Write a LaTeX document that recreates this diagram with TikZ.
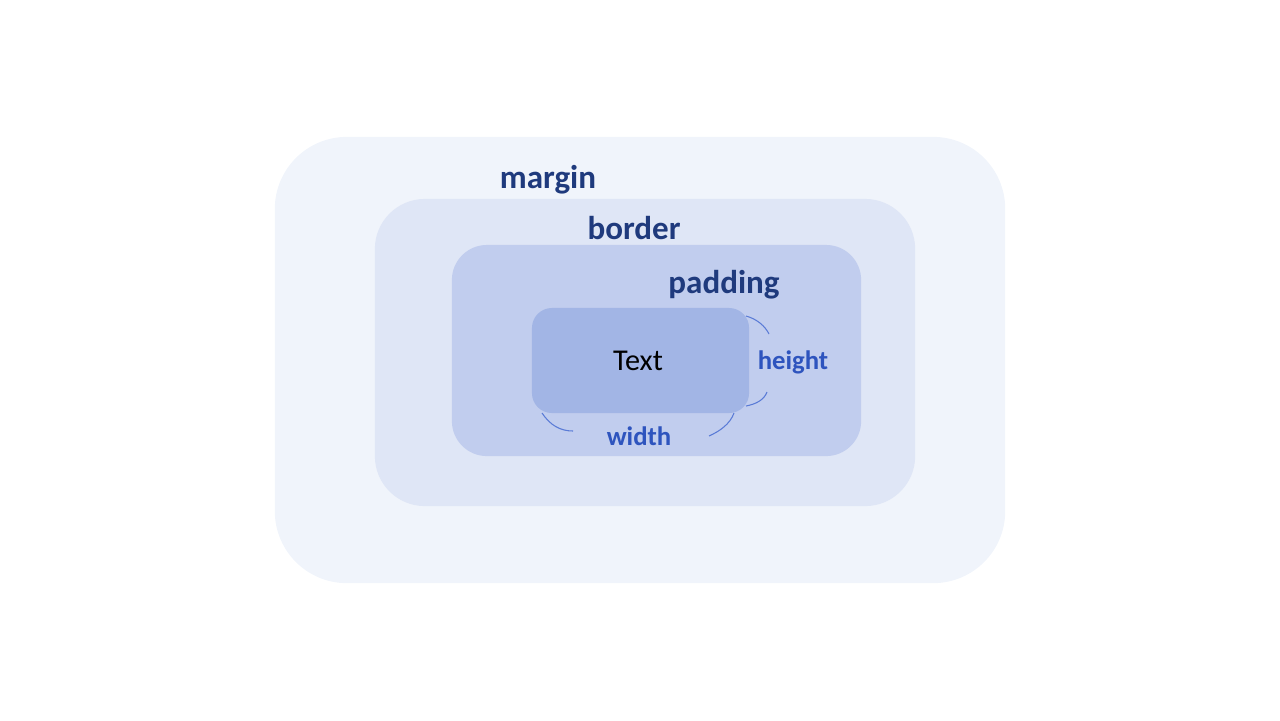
\documentclass[tikz,border=0pt]{standalone}
\usepackage{fontspec}
\setmainfont{Carlito}
\usepackage{xcolor}
\usepackage{tikz}
\definecolor{marginblue}{HTML}{F0F4FB}
\definecolor{borderblue}{HTML}{DFE6F6}
\definecolor{paddingblue}{HTML}{C1CDEE}
\definecolor{textblue}{HTML}{A2B5E5}
\definecolor{labelnavy}{HTML}{1F3A7D}
\definecolor{sizeblue}{HTML}{2E54BE}
\definecolor{arcblue}{HTML}{5A7BD6}
\tikzset{
	layer/.style = {rectangle, inner sep=0pt, draw=none},
	boxlabel/.style = {font=\fontsize{9.4}{11}\selectfont\bfseries, text=labelnavy},
	sizelabel/.style = {font=\fontsize{7.6}{9}\selectfont\bfseries, text=sizeblue},
	arc/.style = {draw=arcblue, line width=0.3pt}
}

\begin{document}
\begin{tikzpicture}[x=0.01cm, y=-0.01cm]
	\useasboundingbox (0,0) rectangle (1280,720);
	
	\node[layer, minimum width=7.3cm, minimum height=4.46cm, rounded corners=0.72cm, fill=marginblue] (mbox) at (640,360) {};
	\node[layer, minimum width=5.4cm, minimum height=3.07cm, rounded corners=0.5cm, fill=borderblue] (bbox) at (645,352.5) {};
	\node[layer, minimum width=4.09cm, minimum height=2.11cm, rounded corners=0.35cm, fill=paddingblue] (pbox) at (656.5,350.5) {};
	\node[layer, minimum width=2.17cm, minimum height=1.05cm, rounded corners=0.2cm, fill=textblue] (tbox) at (640.5,360.5) {};
	
	\node[boxlabel] (mlabel) at (548,180) {margin};
	\node[boxlabel] (blabel) at (634,228) {border};
	\node[boxlabel] (plabel) at (724,285) {padding};
	\node[font=\fontsize{8.6}{10}\selectfont] (tlabel) at (638,361) {Text};
	\node[sizelabel] (hlabel) at (793,362.5) {height};
	\node[sizelabel] (wlabel) at (639,436) {width};
	
	\coordinate (h1) at (746,316);
	\coordinate (h2) at (769,334);
	\coordinate (h3) at (767,392);
	\coordinate (h4) at (746,406);
	\coordinate (w1) at (542,413);
	\coordinate (w2) at (573,431);
	\coordinate (w3) at (734,413);
	\coordinate (w4) at (709,436);
	
	\draw[arc] (h1) .. controls (757,319) and (765,326) .. (h2);
	\draw[arc] (h3) .. controls (764,400) and (756,404) .. (h4);
	\draw[arc] (w1) .. controls (550,425) and (560,431) .. (w2);
	\draw[arc] (w3) .. controls (730,424) and (720,431) .. (w4);
	
\end{tikzpicture}
\end{document}
